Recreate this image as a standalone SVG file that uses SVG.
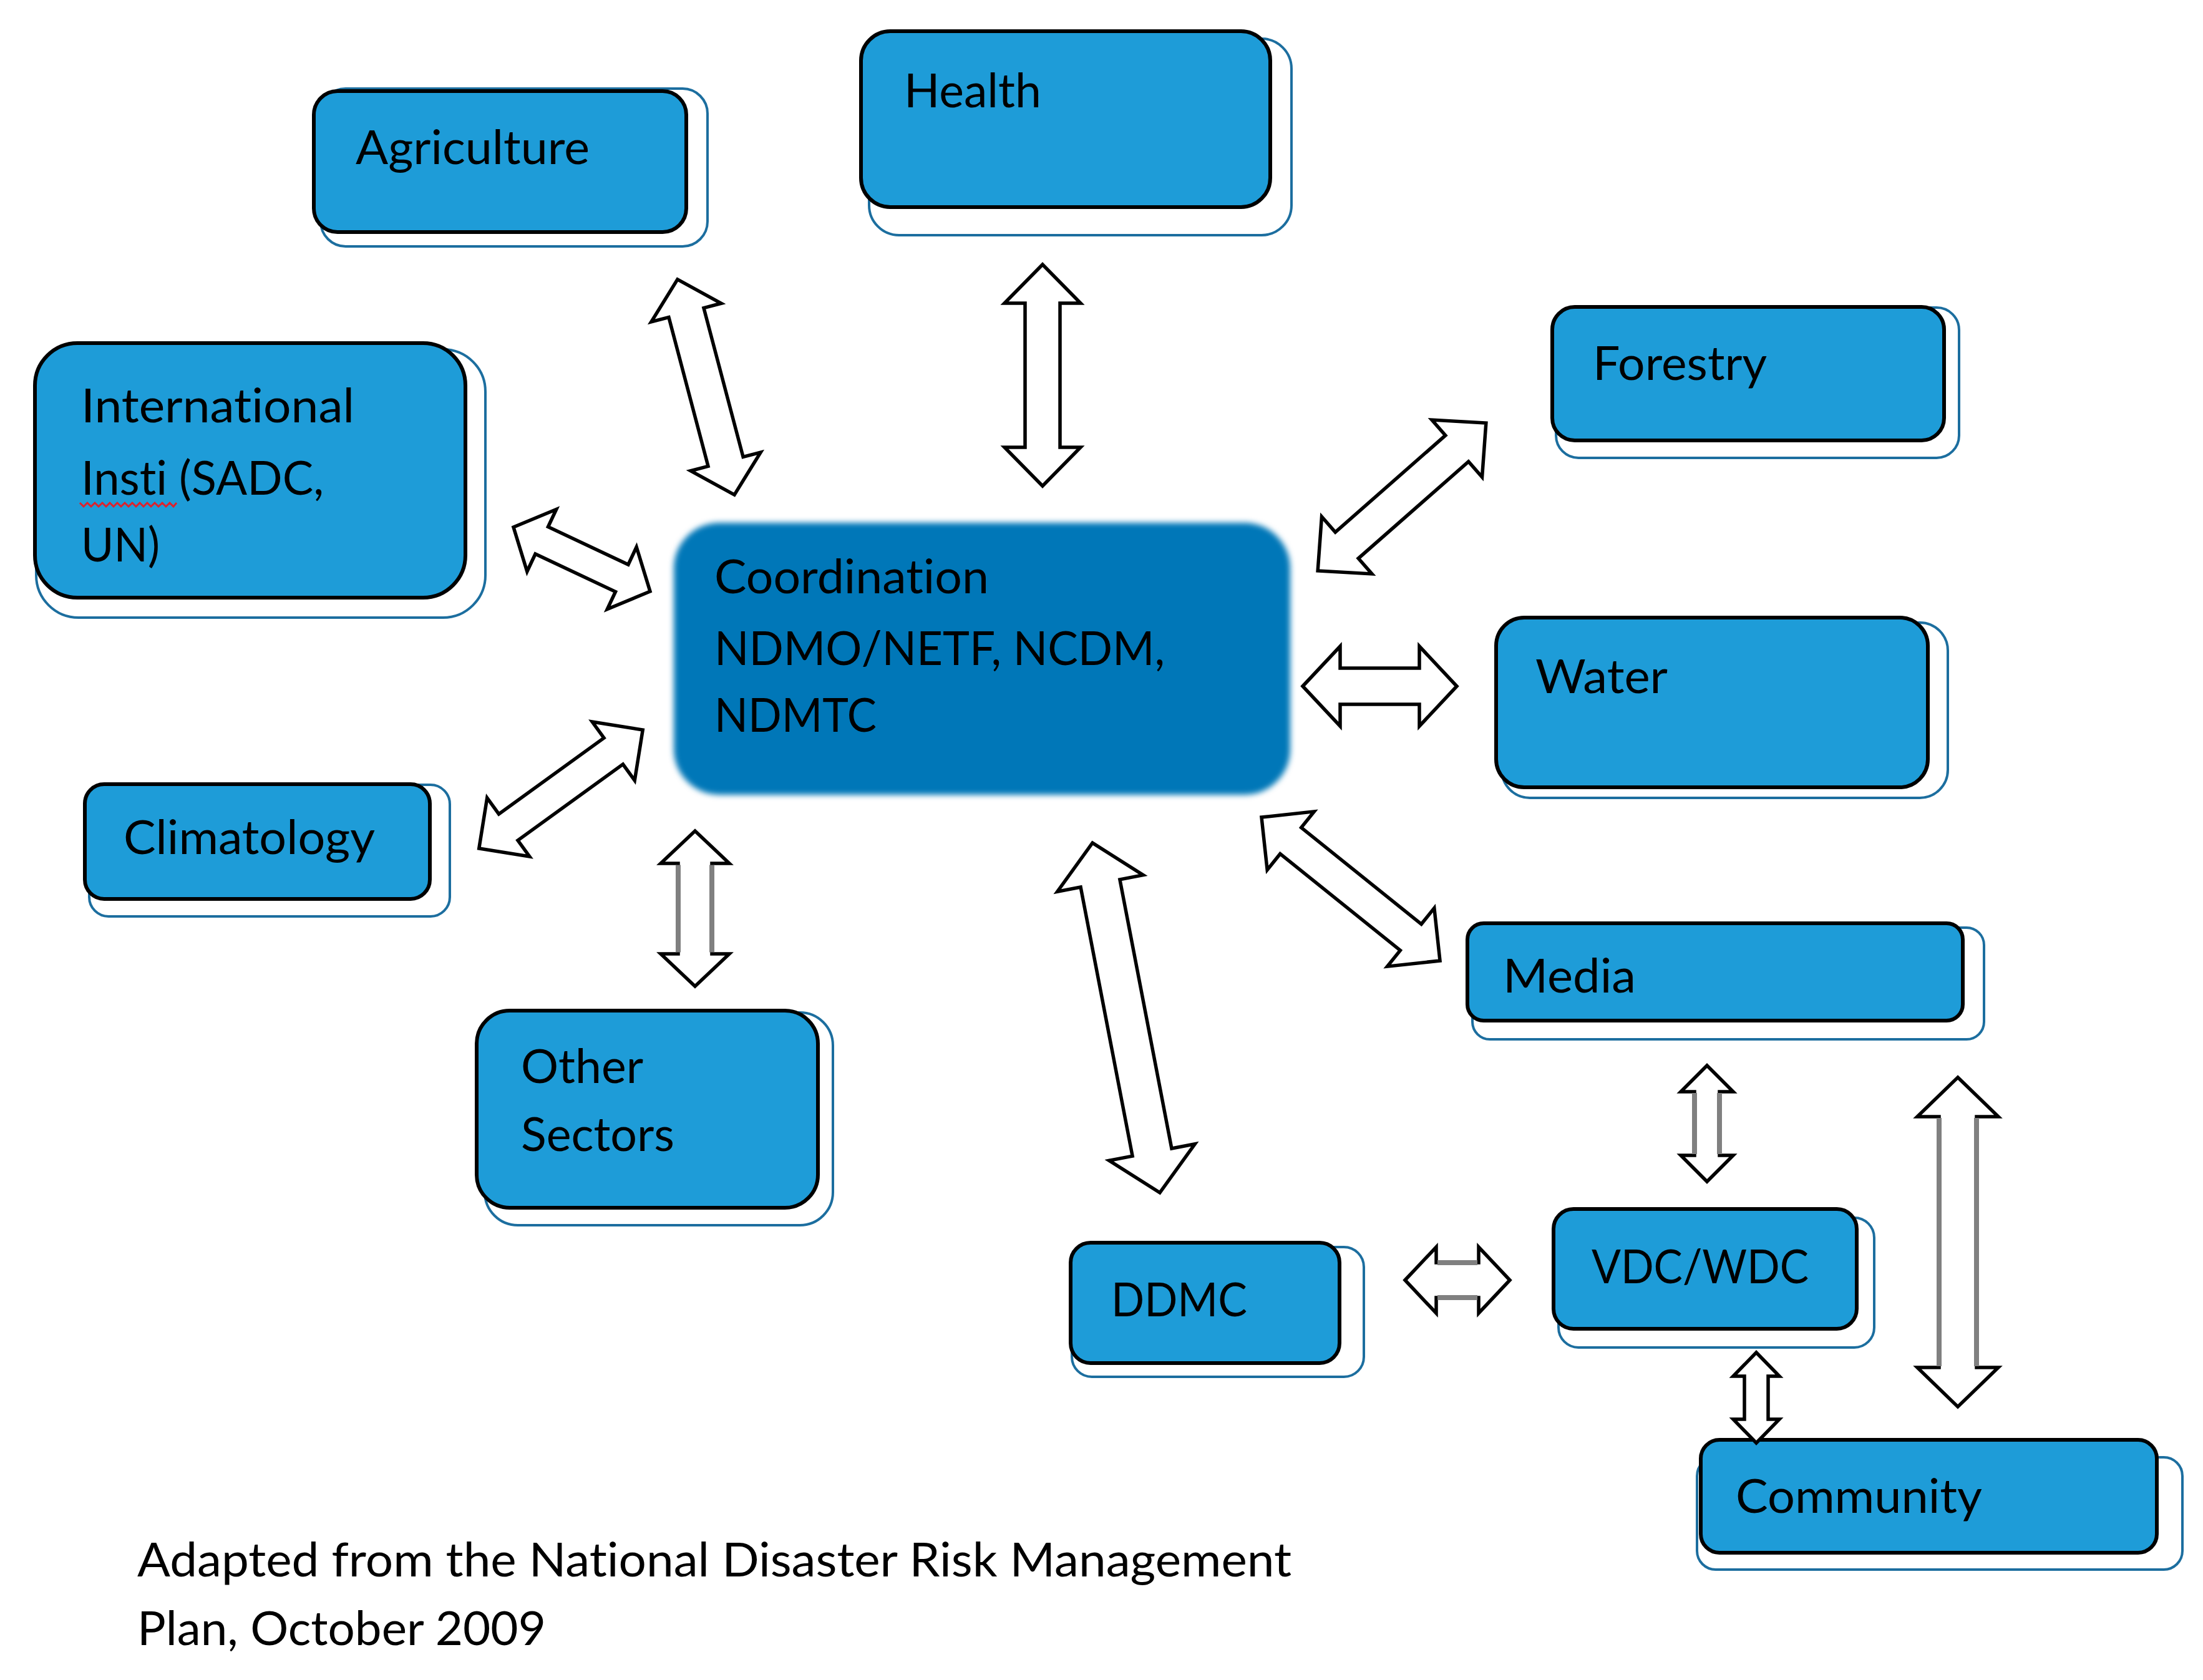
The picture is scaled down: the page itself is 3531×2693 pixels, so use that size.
<svg xmlns="http://www.w3.org/2000/svg" width="3531" height="2693" viewBox="0 0 3531 2693">
<defs>
<style>
.sh{fill:#ffffff;stroke:#1c6e9f;stroke-width:4}
.bx{fill:#1e9cd8;stroke:#000000;stroke-width:6}
.t{font-family:Lato,"Open Sans","Liberation Sans",sans-serif;font-size:76px;fill:#000000;font-variant-ligatures:none;font-feature-settings:"liga" 0,"clig" 0,"dlig" 0}
.ar{fill:#ffffff;stroke:#000000;stroke-width:5.5;stroke-linejoin:miter}
.gl{stroke:#808080;stroke-width:8}
</style>
<filter id="soft" x="-5%" y="-5%" width="110%" height="110%">
<feGaussianBlur stdDeviation="5"/>
</filter>
</defs>
<rect width="3531" height="2693" fill="#ffffff"/>

<g id="agriculture">
<rect class="sh" x="514" y="142" width="620" height="253" rx="40"/>
<rect class="bx" x="503" y="146" width="597" height="226" rx="38"/>
<text class="t" x="570" y="263" textLength="375" lengthAdjust="spacingAndGlyphs">Agriculture</text>
</g>

<g id="health">
<rect class="sh" x="1393" y="62" width="677" height="315" rx="48"/>
<rect class="bx" x="1380" y="50" width="656" height="282" rx="47"/>
<text class="t" x="1449" y="172" textLength="220" lengthAdjust="spacingAndGlyphs">Health</text>
</g>

<g id="international">
<rect class="sh" x="58" y="560" width="720" height="430" rx="68"/>
<rect class="bx" x="56" y="550" width="690" height="408" rx="68"/>
<text class="t" x="130" y="677" textLength="438" lengthAdjust="spacingAndGlyphs">International</text>
<text class="t" x="130" y="793" textLength="389" lengthAdjust="spacingAndGlyphs">Insti (SADC,</text>
<text class="t" x="130" y="900" textLength="126" lengthAdjust="spacingAndGlyphs">UN)</text>
<polyline points="128,806 134,812 140,806 146,812 152,806 158,812 164,806 170,812 176,806 182,812 188,806 194,812 200,806 206,812 212,806 218,812 224,806 230,812 236,806 242,812 248,806 254,812 260,806 266,812 272,806 278,812 283,806" fill="none" stroke="#e0202a" stroke-width="3"/>
</g>

<g id="forestry">
<rect class="sh" x="2494" y="493" width="646" height="241" rx="36"/>
<rect class="bx" x="2488" y="492" width="628" height="214" rx="36"/>
<text class="t" x="2553" y="609" textLength="279" lengthAdjust="spacingAndGlyphs">Forestry</text>
</g>

<g id="water">
<rect class="sh" x="2407" y="998" width="715" height="281" rx="45"/>
<rect class="bx" x="2398" y="990" width="692" height="272" rx="45"/>
<text class="t" x="2461" y="1111" textLength="212" lengthAdjust="spacingAndGlyphs">Water</text>
</g>

<g id="climatology">
<rect class="sh" x="143" y="1258" width="578" height="211" rx="31"/>
<rect class="bx" x="136" y="1257" width="553" height="184" rx="31"/>
<text class="t" x="198" y="1369" textLength="403" lengthAdjust="spacingAndGlyphs">Climatology</text>
</g>

<g id="other-sectors">
<rect class="sh" x="777" y="1623" width="558" height="341" rx="53"/>
<rect class="bx" x="764" y="1620" width="547" height="316" rx="53"/>
<text class="t" x="835" y="1736" textLength="196" lengthAdjust="spacingAndGlyphs">Other</text>
<text class="t" x="835" y="1845" textLength="246" lengthAdjust="spacingAndGlyphs">Sectors</text>
</g>

<g id="coordination">
<rect x="1080" y="838" width="988" height="436" rx="73" fill="#0077b8" filter="url(#soft)"/>
<text class="t" x="1145" y="951" textLength="440" lengthAdjust="spacingAndGlyphs">Coordination</text>
<text class="t" x="1145" y="1066" textLength="722" lengthAdjust="spacingAndGlyphs">NDMO/NETF, NCDM,</text>
<text class="t" x="1145" y="1173" textLength="260" lengthAdjust="spacingAndGlyphs">NDMTC</text>
</g>

<g id="media">
<rect class="sh" x="2360" y="1487" width="820" height="179" rx="28"/>
<rect class="bx" x="2352" y="1480" width="794" height="156" rx="26"/>
<text class="t" x="2409" y="1591" textLength="213" lengthAdjust="spacingAndGlyphs">Media</text>
</g>

<g id="ddmc">
<rect class="sh" x="1718" y="1999" width="468" height="208" rx="32"/>
<rect class="bx" x="1716" y="1992" width="431" height="193" rx="32"/>
<text class="t" x="1781" y="2110" textLength="218" lengthAdjust="spacingAndGlyphs">DDMC</text>
</g>

<g id="vdc-wdc">
<rect class="sh" x="2498" y="1952" width="506" height="208" rx="32"/>
<rect class="bx" x="2490" y="1938" width="486" height="192" rx="32"/>
<text class="t" x="2551" y="2057" textLength="348" lengthAdjust="spacingAndGlyphs">VDC/WDC</text>
</g>

<g id="community">
<rect class="sh" x="2720" y="2336" width="778" height="180" rx="30"/>
<rect class="bx" x="2726" y="2308" width="731" height="181" rx="30"/>
<text class="t" x="2782" y="2425" textLength="395" lengthAdjust="spacingAndGlyphs">Community</text>
</g>

<g id="connectors">
<polygon class="ar" transform="translate(1131.5,620.5) rotate(75.2)" points="-178.5,0 -123.5,-58 -123.5,-29 123.5,-29 123.5,-58 178.5,0 123.5,58 123.5,29 -123.5,29 -123.5,58"/>
<polygon class="ar" transform="translate(1671,601.5) rotate(90)" points="-177.5,0 -115.5,-61 -115.5,-28 115.5,-28 115.5,-61 177.5,0 115.5,61 115.5,28 -115.5,28 -115.5,61"/>
<polygon class="ar" transform="translate(932.5,896.5) rotate(25.2)" points="-121,0 -71,-55 -71,-24 71,-24 71,-55 121,0 71,55 71,24 -71,24 -71,55"/>
<polygon class="ar" transform="translate(2247,796.5) rotate(-41.3)" points="-179.5,0 -117.5,-61 -117.5,-28 117.5,-28 117.5,-61 179.5,0 117.5,61 117.5,28 -117.5,28 -117.5,61"/>
<polygon class="ar" transform="translate(2211.5,1100)" points="-123.5,0 -63.5,-64 -63.5,-29 63.5,-29 63.5,-64 123.5,0 63.5,64 63.5,29 -63.5,29 -63.5,64"/>
<polygon class="ar" transform="translate(899,1265) rotate(-35.9)" points="-162,0 -104,-58 -104,-26 104,-26 104,-58 162,0 104,58 104,26 -104,26 -104,58"/>
<g transform="translate(1114,1456.5) rotate(90)">
<polygon class="ar" points="-124.5,0 -72.5,-55 -72.5,-27 72.5,-27 72.5,-55 124.5,0 72.5,55 72.5,27 -72.5,27 -72.5,55"/>
<line class="gl" x1="-70" y1="-27" x2="70" y2="-27"/>
<line class="gl" x1="-70" y1="27" x2="70" y2="27"/>
</g>
<polygon class="ar" transform="translate(1805,1631.5) rotate(79.1)" points="-285.5,0 -219.5,-70 -219.5,-32 219.5,-32 219.5,-70 285.5,0 219.5,70 219.5,32 -219.5,32 -219.5,70"/>
<polygon class="ar" transform="translate(2165,1425) rotate(38.8)" points="-183.5,0 -123.5,-60 -123.5,-27 123.5,-27 123.5,-60 183.5,0 123.5,60 123.5,27 -123.5,27 -123.5,60"/>
<g transform="translate(2736,1801) rotate(90)">
<polygon class="ar" points="-93,0 -51,-42 -51,-20 51,-20 51,-42 93,0 51,42 51,20 -51,20 -51,42"/>
<line class="gl" x1="-49" y1="-20" x2="49" y2="-20"/>
<line class="gl" x1="-49" y1="20" x2="49" y2="20"/>
</g>
<g transform="translate(3138,1991) rotate(90)">
<polygon class="ar" points="-264,0 -201,-65 -201,-30 201,-30 201,-65 264,0 201,65 201,30 -201,30 -201,65"/>
<line class="gl" x1="-199" y1="-30" x2="199" y2="-30"/>
<line class="gl" x1="-199" y1="30" x2="199" y2="30"/>
</g>
<g transform="translate(2336,2052)">
<polygon class="ar" points="-84,0 -34,-53 -34,-28 34,-28 34,-53 84,0 34,53 34,28 -34,28 -34,53"/>
<line class="gl" x1="-32" y1="-28" x2="32" y2="-28" stroke-width="12"/>
<line class="gl" x1="-32" y1="28" x2="32" y2="28" stroke-width="12"/>
</g>
<polygon class="ar" transform="translate(2815,2240.5) rotate(90)" points="-72.5,0 -34.5,-37 -34.5,-19 34.5,-19 34.5,-37 72.5,0 34.5,37 34.5,19 -34.5,19 -34.5,37"/>
</g>

<g id="caption">
<text class="t" x="220" y="2527" fill="#222222" textLength="1850" lengthAdjust="spacingAndGlyphs">Adapted from the National Disaster Risk Management</text>
<text class="t" x="220" y="2637" fill="#222222" textLength="655" lengthAdjust="spacingAndGlyphs">Plan, October 2009</text>
</g>
</svg>
